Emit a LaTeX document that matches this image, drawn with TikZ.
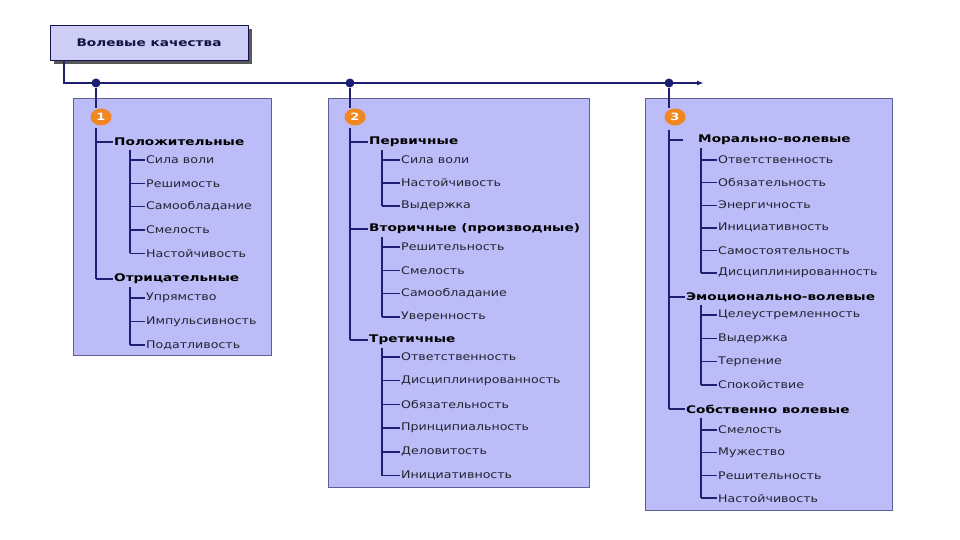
\documentclass[tikz,border=0pt]{standalone}
\usepackage{fontspec}
\usepackage{xcolor}
\usepackage{tikz}
\usetikzlibrary{arrows.meta, positioning, calc, shadows, shapes.geometric}
\setmainfont{DejaVu Sans}[FakeStretch=1.2, BoldFeatures={FakeStretch=1.3}]
\definecolor{panelblue}{RGB}{188,188,248}
\definecolor{paneledge}{RGB}{95,95,150}
\definecolor{titleblue}{RGB}{205,205,245}
\definecolor{linenavy}{RGB}{30,30,115}
\definecolor{numorange}{RGB}{240,135,35}
\definecolor{itemgray}{RGB}{35,35,50}

\begin{document}
\begin{tikzpicture}[
  x=1pt, y=-1pt,
  panel/.style={draw=paneledge, fill=panelblue, line width=0.8pt},
  titlebox/.style={draw=linenavy!70!black, fill=titleblue, minimum width=198pt,
    minimum height=35pt, font=\bfseries\fontsize{10.5}{13}\selectfont, text=linenavy!60!black,
    drop shadow={shadow xshift=4pt, shadow yshift=-4pt, opacity=1, fill=black!65}},
  ln/.style={draw=linenavy, line width=1.4pt},
  dot/.style={circle, fill=linenavy, inner sep=0pt, minimum size=9pt},
  num/.style={ellipse, fill=numorange, inner sep=0pt, minimum width=21pt,
    minimum height=17pt, text=white, font=\bfseries\fontsize{10}{11}\selectfont},
  cat/.style={anchor=west, inner sep=1pt, font=\bfseries\fontsize{10.5}{12}\selectfont},
  item/.style={anchor=west, inner sep=1pt, text=itemgray, font=\fontsize{10.5}{12}\selectfont},
]
  \useasboundingbox (0,0) rectangle (960,540);

  % panels
  \draw[panel] (73,98) rectangle (271,355);
  \draw[panel] (328,98) rectangle (589,487);
  \draw[panel] (645,98) rectangle (892,510);

  % title and main line
  \node[titlebox] (title) at (149,43) {Волевые качества};
  \coordinate (start) at (64,60);
  \coordinate (tip) at (704,83);
  \draw[ln, -{Latex[length=7pt, width=5pt]}] (start) |- (tip);
  \node[dot] (d1) at (96,83) {};
  \node[dot] (d2) at (350,83) {};
  \node[dot] (d3) at (669,83) {};

  \node[num] (n1) at (101,117) {1};
  \node[num] (n2) at (355,117) {2};
  \node[num] (n3) at (675,117) {3};
  \foreach \k in {1,2,3}
    \draw[ln] (d\k) -- (d\k |- n\k.north);

  % branch 1
  \node[cat] (pos) at (113,142) {Положительные};
  \foreach \t [count=\i] in {Сила воли, Решимость, Самообладание, Смелость, Настойчивость}
    \node[item] (pos-\i) at (145,{160+(\i-1)*23.3}) {\t};
  \node[cat] (neg) at (113,279) {Отрицательные};
  \foreach \t [count=\i] in {Упрямство, Импульсивность, Податливость}
    \node[item] (neg-\i) at (145,{298+(\i-1)*23.5}) {\t};

  \coordinate (t1) at (96,128);
  \draw[ln] (t1) -- (neg.west -| t1);
  \foreach \c in {pos,neg}
    \draw[ln] (\c.west -| t1) -- (\c.west);
  \coordinate (s1) at (130,150);
  \draw[ln] (s1) -- (pos-5.west -| s1);
  \foreach \i in {1,...,5}
    \draw[ln] (pos-\i.west -| s1) -- (pos-\i.west);
  \coordinate (s2) at (130,287);
  \draw[ln] (s2) -- (neg-3.west -| s2);
  \foreach \i in {1,2,3}
    \draw[ln] (neg-\i.west -| s2) -- (neg-\i.west);

  % branch 2
  \node[cat] (prim) at (368,142) {Первичные};
  \foreach \t [count=\i] in {Сила воли, Настойчивость, Выдержка}
    \node[item] (prim-\i) at (400,{160+(\i-1)*23}) {\t};
  \node[cat] (sec) at (368,229) {Вторичные (производные)};
  \foreach \t [count=\i] in {Решительность, Смелость, Самообладание, Уверенность}
    \node[item] (sec-\i) at (400,{247+(\i-1)*23.3}) {\t};
  \node[cat] (ter) at (368,340) {Третичные};
  \foreach \t [count=\i] in {Ответственность, Дисциплинированность, Обязательность,
      Принципиальность, Деловитость, Инициативность}
    \node[item] (ter-\i) at (400,{357+(\i-1)*23.7}) {\t};

  \coordinate (t2) at (350,128);
  \draw[ln] (t2) -- (ter.west -| t2);
  \foreach \c in {prim,sec,ter}
    \draw[ln] (\c.west -| t2) -- (\c.west);
  \coordinate (s3) at (382,150);
  \draw[ln] (s3) -- (prim-3.west -| s3);
  \foreach \i in {1,2,3}
    \draw[ln] (prim-\i.west -| s3) -- (prim-\i.west);
  \coordinate (s4) at (382,237);
  \draw[ln] (s4) -- (sec-4.west -| s4);
  \foreach \i in {1,...,4}
    \draw[ln] (sec-\i.west -| s4) -- (sec-\i.west);
  \coordinate (s5) at (382,348);
  \draw[ln] (s5) -- (ter-6.west -| s5);
  \foreach \i in {1,...,6}
    \draw[ln] (ter-\i.west -| s5) -- (ter-\i.west);

  % branch 3
  \node[cat] (mor) at (697,140) {Морально-волевые};
  \foreach \t [count=\i] in {Ответственность, Обязательность, Энергичность,
      Инициативность, Самостоятельность, Дисциплинированность}
    \node[item] (mor-\i) at (717,{160+(\i-1)*22.6}) {\t};
  \node[cat] (emo) at (685,297) {Эмоционально-волевые};
  \foreach \t [count=\i] in {Целеустремленность, Выдержка, Терпение, Спокойствие}
    \node[item] (emo-\i) at (717,{315+(\i-1)*23.3}) {\t};
  \node[cat] (own) at (685,409) {Собственно волевые};
  \foreach \t [count=\i] in {Смелость, Мужество, Решительность, Настойчивость}
    \node[item] (own-\i) at (717,{430+(\i-1)*22.7}) {\t};

  \coordinate (t3) at (669,130);
  \draw[ln] (t3) -- (own.west -| t3);
  \draw[ln, shorten >=14pt] (mor.west -| t3) -- (mor.west);
  \foreach \c in {emo,own}
    \draw[ln] (\c.west -| t3) -- (\c.west);
  \coordinate (s6) at (701,148);
  \draw[ln] (s6) -- (mor-6.west -| s6);
  \foreach \i in {1,...,6}
    \draw[ln] (mor-\i.west -| s6) -- (mor-\i.west);
  \coordinate (s7) at (701,305);
  \draw[ln] (s7) -- (emo-4.west -| s7);
  \foreach \i in {1,...,4}
    \draw[ln] (emo-\i.west -| s7) -- (emo-\i.west);
  \coordinate (s8) at (701,418);
  \draw[ln] (s8) -- (own-4.west -| s8);
  \foreach \i in {1,...,4}
    \draw[ln] (own-\i.west -| s8) -- (own-\i.west);
\end{tikzpicture}
\end{document}
